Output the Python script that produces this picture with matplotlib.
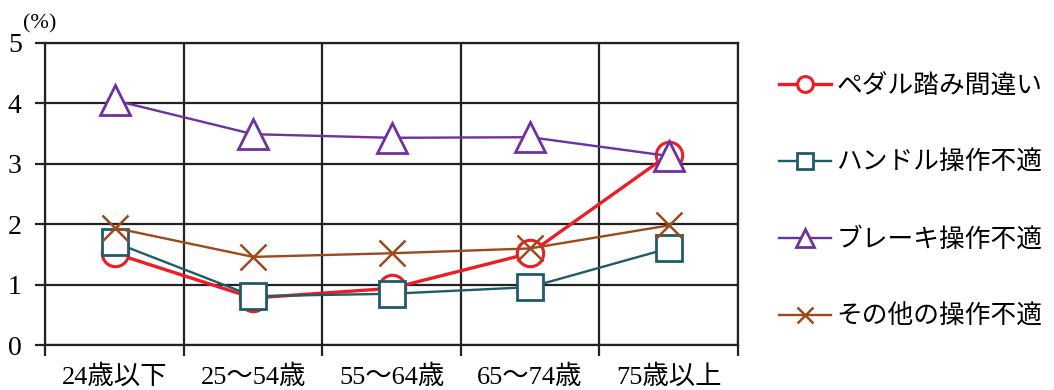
#!/usr/bin/env python3
# -*- coding: utf-8 -*-

import matplotlib
matplotlib.use('Agg')
import matplotlib.pyplot as plt
from matplotlib.ticker import FixedLocator

plt.rcParams['font.family'] = ['Liberation Serif', 'Noto Sans CJK JP']

categories = ['24歳以下', '25〜54歳', '55〜64歳', '65〜74歳', '75歳以上']
pedal      = [1.52, 0.78, 0.94, 1.52, 3.15]
handle     = [1.70, 0.81, 0.85, 0.96, 1.60]
brake      = [4.05, 3.49, 3.43, 3.44, 3.13]
other      = [1.94, 1.46, 1.52, 1.60, 1.98]

labels = ['ペダル踏み間違い', 'ハンドル操作不適', 'ブレーキ操作不適', 'その他の操作不適']


def main():
    fig = plt.figure(figsize=(10.54, 3.90), dpi=100)
    ax = fig.add_axes([0.043, 0.115, 0.657, 0.775])

    x = range(len(categories))
    ax.plot(x, pedal, color='#ee1c25', lw=2.4, marker='o', ms=19,
            mfc='white', mec='#ee1c25', mew=2.2, label=labels[0], zorder=3)
    ax.plot(x, handle, color='#1f5c6a', lw=1.7, marker='s', ms=19,
            mfc='white', mec='#1f5c6a', mew=2.0, label=labels[1], zorder=4)
    ax.plot(x, brake, color='#7030a0', lw=1.7, marker='^', ms=21,
            mfc='white', mec='#7030a0', mew=2.0, label=labels[2], zorder=5)
    ax.plot(x, other, color='#9c4a1c', lw=1.7, marker='x', ms=19,
            mec='#9c4a1c', mew=1.8, label=labels[3], zorder=6)

    ax.set_xlim(-0.5, len(categories) - 0.5)
    ax.set_ylim(0, 5)
    ax.set_yticks(range(6))
    ax.set_xticks(list(x))
    ax.set_xticklabels(categories, fontsize=19)
    ax.tick_params(axis='x', length=0, pad=14)
    ax.xaxis.set_minor_locator(FixedLocator([i - 0.5 for i in range(len(categories) + 1)]))
    ax.tick_params(axis='x', which='minor', length=8, width=1.6, color='#222222')
    ax.tick_params(axis='y', length=7, width=1.6, color='#222222', labelsize=20, pad=10)

    ax.grid(axis='y', color='#222222', lw=1.6)
    ax.grid(axis='x', which='minor', color='#222222', lw=1.6)
    for s in ax.spines.values():
        s.set_color('#222222')
        s.set_linewidth(1.6)
    ax.set_axisbelow(True)

    fig.text(0.022, 0.915, '(%)', fontsize=16, ha='left', va='bottom')

    fig.legend(loc='upper left', bbox_to_anchor=(0.729, 0.836), frameon=False,
               fontsize=18.5, markerscale=0.6, handlelength=2.05,
               handletextpad=0.2, labelspacing=2.04, borderaxespad=0)

    plt.savefig('out.png', dpi=100)
    plt.close()


if __name__ == '__main__':
    main()
